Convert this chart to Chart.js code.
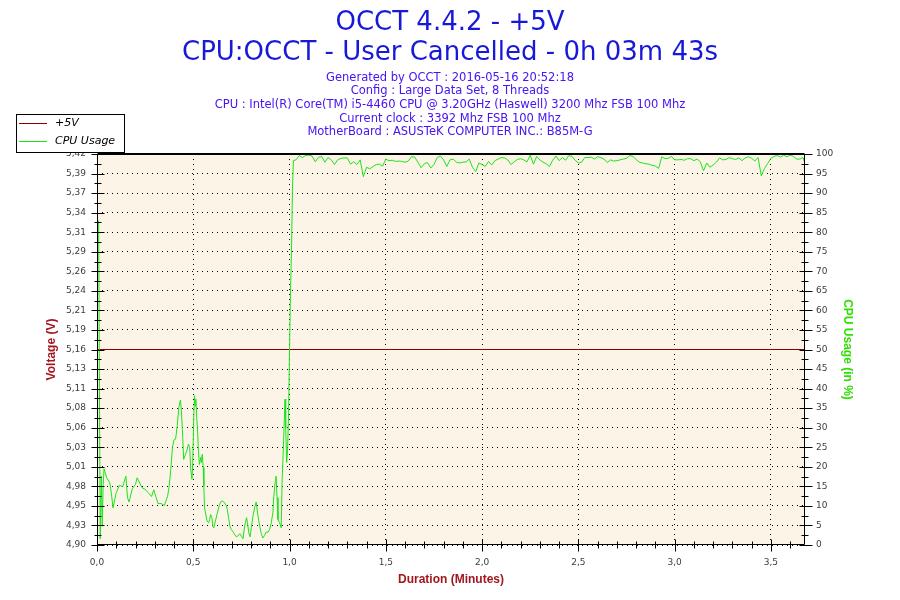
<!DOCTYPE html>
<html>
<head>
<meta charset="utf-8">
<script src="https://cdn.jsdelivr.net/npm/chart.js@4.4.1/dist/chart.umd.min.js"></script>
<style>
html,body{margin:0;padding:0;background:#ffffff;}
#wrap{width:900px;height:600px;position:relative;}
</style>
</head>
<body>
<div id="wrap"><canvas id="c" width="900" height="600"></canvas></div>
<script>
// ---------------- DATA ----------------
const headerLines = ["OCCT 4.4.2 - +5V", "CPU:OCCT - User Cancelled - 0h 03m 43s"];
const infoLines = [
  "Generated by OCCT : 2016-05-16 20:52:18",
  "Config : Large Data Set, 8 Threads",
  "CPU : Intel(R) Core(TM) i5-4460 CPU @ 3.20GHz (Haswell) 3200 Mhz FSB 100 Mhz",
  "Current clock : 3392 Mhz FSB 100 Mhz",
  "MotherBoard : ASUSTeK COMPUTER INC.: B85M-G"
];
const seriesNames = ["+5V", "CPU Usage"];

// +5V (volts) vs time (seconds)
const voltSeconds = [0, 220.6];
const voltValues  = [5.16, 5.16];

// CPU usage (%) vs time (seconds) — ramp-up phase
const rampSeconds = [
  0.5, 1.0, 1.35, 1.65, 1.9, 2.2, 3, 4, 4.5, 5,
  6, 7, 8, 9, 9.5, 10, 11, 12, 12.5, 13,
  14, 15, 16, 17, 17.7, 18.3, 19, 20, 21, 22,
  22.5, 23, 23.5, 24, 24.5, 25, 25.5, 26, 26.3, 26.6,
  27, 27.4, 28, 28.5, 28.9, 29.2, 29.6, 29.8, 30.2, 30.4,
  30.6, 30.8, 31.1, 31.3, 31.6, 31.9, 32.3, 32.5, 32.8, 33.1,
  33.3, 33.5, 34.3, 34.8, 35.1, 35.4, 35.8, 36.1, 36.4, 36.9,
  37.5, 38.2, 38.7, 39.2, 39.8, 40.3, 40.6, 41.1, 41.4, 41.8,
  42.3, 42.9, 43.4, 43.9, 44.5, 45.0, 45.5, 46.0, 46.6, 46.9,
  47.3, 47.7, 48.1, 48.6, 49.1, 49.6, 50.1, 50.7, 51.2, 51.7,
  52.2, 52.7, 53.3, 53.8, 54.3, 54.8, 55.1, 55.5, 55.8, 56.1,
  56.4, 56.9, 57.4, 57.7, 58.1, 58.4, 58.6, 58.8, 59.1, 59.4,
  59.7, 59.9, 60.3, 60.6, 60.9, 61.2
];
const rampUsage = [
  83, 1.6, 17.6, 4.8, 15, 19.5, 17.2, 15.9, 13, 9.5,
  13.4, 15.3, 14.9, 17.6, 12.1, 11, 14.4, 15.5, 17.2, 16.4,
  14.7, 14.2, 13.4, 12.4, 14.1, 12.5, 10.6, 10.6, 10.1, 12.5,
  15.1, 19.4, 24.9, 26.9, 27.1, 30.5, 35.2, 37.1, 34.3, 29.6,
  21.9, 22.8, 24.1, 25.8, 24.9, 19.4, 16.8, 20.2, 33.9, 38.2,
  35.6, 37.3, 32.2, 30.0, 24.1, 20.6, 22.4, 21.1, 23.2, 19.8,
  15.1, 9.5, 6.1, 5.7, 6.5, 7.8, 7.0, 4.8, 4.4, 6.1,
  8.2, 10.4, 11.2, 11.2, 10.8, 10.0, 9.1, 6.5, 4.8, 4.0,
  3.5, 2.7, 2.1, 2.3, 2.9, 2.3, 1.6, 4.8, 7.0, 5.7,
  3.1, 2.1, 4.4, 7.4, 9.5, 11.0, 7.8, 4.8, 2.9, 1.8,
  2.4, 3.3, 3.3, 4.0, 5.7, 8.2, 12.5, 15.9, 17.6, 12.1,
  6.5, 5.7, 4.4, 16.8, 25.3, 33.0, 37.3, 30.0, 21.1, 24.5,
  33.9, 45, 65, 75, 90.6, 98.3
];

// CPU usage (%) vs time (seconds) — full-load phase
const loadSeconds = [
  62, 63, 64, 65, 66, 67, 68, 69, 70, 71,
  72, 73, 74, 75, 76, 77, 78, 79, 80, 81,
  82, 83, 84, 85, 86, 87, 88, 89, 90, 91,
  92, 93, 94, 95, 96, 97, 98, 99, 100, 101,
  102, 103, 104, 105, 106, 107, 108, 109, 110, 111,
  112, 113, 114, 115, 116, 117, 118, 119, 120, 121,
  122, 123, 124, 125, 126, 127, 128, 129, 130, 131,
  132, 133, 134, 135, 136, 137, 138, 139, 140, 141,
  142, 143, 144, 145, 146, 147, 148, 149, 150, 151,
  152, 153, 154, 155, 156, 157, 158, 159, 160, 161,
  162, 163, 164, 165, 166, 167, 168, 169, 170, 171,
  172, 173, 174, 175, 176, 177, 178, 179, 180, 181,
  182, 183, 184, 185, 186, 187, 188, 189, 190, 191,
  192, 193, 194, 195, 196, 197, 198, 199, 200, 201,
  202, 203, 204, 205, 206, 207, 208, 209, 210, 211,
  212, 213, 214, 215, 216, 217, 218, 219, 220, 220.6
];
const loadUsage = [
  98.5, 99.6, 99.1, 99.6, 99.7, 99.5, 98.0, 99.1, 99.4, 97.9,
  99.1, 98.5, 97.3, 98.5, 98.9, 99.0, 99.0, 97.4, 98.0, 97.3,
  98.5, 94.2, 96.6, 96.2, 96.8, 97.3, 97.4, 96.9, 98.7, 98.3,
  98.4, 98.1, 98.2, 98.1, 97.9, 98.2, 99.3, 99.2, 97.9, 96.5,
  97.5, 97.8, 96.4, 97.3, 99.1, 99.5, 98.5, 96.8, 98.5, 98.7,
  97.9, 97.7, 97.9, 98.0, 98.7, 96.6, 95.5, 97.7, 97.3, 96.8,
  98.1, 97.2, 98.3, 98.7, 99.1, 99.0, 98.5, 97.3, 98.0, 98.6,
  98.8, 98.5, 98.0, 99.7, 97.4, 99.4, 98.5, 97.9, 97.5, 96.8,
  98.4, 99.5, 98.3, 99.1, 98.4, 99.6, 99.4, 98.4, 97.7, 97.9,
  99.1, 99.1, 99.2, 98.7, 99.3, 99.1, 98.7, 97.8, 98.5, 98.2,
  98.3, 98.5, 98.7, 98.9, 99.6, 99.4, 98.6, 97.9, 97.7, 97.5,
  97.4, 97.1, 96.9, 96.3, 99.3, 98.8, 98.9, 99.4, 98.5, 98.5,
  98.6, 98.4, 98.8, 98.8, 98.3, 98.7, 98.0, 95.7, 97.7, 96.6,
  97.2, 97.9, 99.0, 98.5, 98.6, 99.1, 98.8, 98.6, 99.0, 98.3,
  99.0, 99.3, 98.9, 98.2, 99.1, 94.4, 96.3, 97.6, 98.9, 99.4,
  99.6, 99.2, 99.7, 99.3, 99.7, 99.4, 98.7, 98.7, 99.1, 97.6
];

// Axis ticks
const voltTickValues = [4.900, 4.926, 4.952, 4.978, 5.004, 5.030, 5.056, 5.082, 5.108, 5.134,
  5.160, 5.186, 5.212, 5.238, 5.264, 5.290, 5.316, 5.342, 5.368, 5.394, 5.420];
const voltTickLabels = ["4,90","4,93","4,95","4,98","5,01","5,03","5,06","5,08","5,11","5,13",
  "5,16","5,19","5,21","5,24","5,26","5,29","5,31","5,34","5,37","5,39","5,42"];
const timeTickValues = [0, 0.5, 1.0, 1.5, 2.0, 2.5, 3.0, 3.5];
const timeTickLabels = ["0,0","0,5","1,0","1,5","2,0","2,5","3,0","3,5"];

// ---------------- STYLE ----------------
const X_MAX = 3.677;
const RED = '#8b0000';
const GREEN = '#18e618';
const AXIS_RED = '#a3161e';
const AXIS_GREEN = '#2ee000';
const TICK_FONT = {family: 'DejaVu Sans', size: 9};
const TICK_COLOR = '#3c3c3c';

const toXY = (secs, vals) => secs.map((s, i) => ({x: s / 60, y: vals[i]}));

const decorPlugin = {
  id: 'decor',
  beforeDraw(chart) {
    const {ctx, chartArea: a} = chart;
    ctx.save();
    ctx.fillStyle = '#ffffff';
    ctx.fillRect(0, 0, chart.width, chart.height);
    ctx.fillStyle = '#fcf5e7';
    ctx.fillRect(a.left, a.top, a.right - a.left, a.bottom - a.top);
    ctx.restore();
  },
  afterDraw(chart) {
    const {ctx, chartArea: a, scales} = chart;
    ctx.save();
    // header text
    ctx.textAlign = 'center';
    ctx.textBaseline = 'alphabetic';
    ctx.fillStyle = '#1818d8';
    ctx.font = '26px "DejaVu Sans"';
    ctx.fillText(headerLines[0], 450, 30);
    ctx.fillText(headerLines[1], 450, 60);
    ctx.fillStyle = '#4a14f4';
    ctx.font = '11.5px "DejaVu Sans"';
    infoLines.forEach((t, i) => ctx.fillText(t, 450, 80.5 + i * 13.7));

    // frame
    ctx.strokeStyle = '#000';
    ctx.lineWidth = 1;
    const L = Math.round(a.left) + 0.5, R = Math.round(a.right) - 0.5;
    const T = Math.round(a.top) + 0.5, B = Math.round(a.bottom) - 0.5;
    ctx.beginPath();
    ctx.moveTo(L, T); ctx.lineTo(R, T); ctx.lineTo(R, B); ctx.lineTo(L, B); ctx.closePath();
    ctx.stroke();
    ctx.beginPath();
    ctx.moveTo(L, T - 1); ctx.lineTo(R, T - 1);
    ctx.stroke();

    // tick marks
    const line = (x1, y1, x2, y2) => { ctx.moveTo(x1, y1); ctx.lineTo(x2, y2); };
    ctx.beginPath();
    const ys = scales.y, y1s = scales.y1, xs = scales.x;
    for (let i = 0; i < voltTickValues.length; i++) {
      const p = Math.round(ys.getPixelForValue(voltTickValues[i])) + 0.5;
      line(L - 6, p, L + 7, p);
      if (i < voltTickValues.length - 1) {
        const m = Math.round(ys.getPixelForValue((voltTickValues[i] + voltTickValues[i + 1]) / 2)) + 0.5;
        line(L - 3, m, L + 4, m);
      }
    }
    for (let v = 0; v <= 100; v += 5) {
      const p = Math.round(y1s.getPixelForValue(v)) + 0.5;
      line(R - 5, p, R + 8, p);
      if (v < 100) {
        const m = Math.round(y1s.getPixelForValue(v + 2.5)) + 0.5;
        line(R - 3, m, R + 4, m);
      }
    }
    for (let k = 0; k <= 36; k++) {
      const v = k / 10;
      const p = Math.round(xs.getPixelForValue(v)) + 0.5;
      if (k % 5 === 0) line(p, B - 5, p, B + 7);
      else line(p, B - 3, p, B + 4);
    }
    ctx.stroke();

    // legend box
    ctx.fillStyle = '#ffffff';
    ctx.fillRect(16, 114, 108, 38);
    ctx.strokeRect(16.5, 114.5, 108, 38);
    ctx.lineWidth = 1;
    ctx.strokeStyle = RED;
    ctx.beginPath(); ctx.moveTo(19, 123.5); ctx.lineTo(47, 123.5); ctx.stroke();
    ctx.strokeStyle = GREEN;
    ctx.beginPath(); ctx.moveTo(19, 141.5); ctx.lineTo(47, 141.5); ctx.stroke();
    ctx.fillStyle = '#000';
    ctx.textAlign = 'left';
    ctx.textBaseline = 'middle';
    ctx.font = 'italic 11px "DejaVu Sans"';
    ctx.fillText(seriesNames[0], 55, 123);
    ctx.fillText(seriesNames[1], 55, 141);
    ctx.restore();
  }
};

new Chart(document.getElementById('c'), {
  type: 'line',
  data: {
    datasets: [
      {
        label: seriesNames[1],
        data: toXY(rampSeconds.concat(loadSeconds), rampUsage.concat(loadUsage)),
        yAxisID: 'y1',
        borderColor: GREEN,
        borderWidth: 1,
        pointRadius: 0,
        tension: 0,
        order: 0
      },
      {
        label: seriesNames[0],
        data: toXY(voltSeconds, voltValues),
        yAxisID: 'y',
        borderColor: RED,
        borderWidth: 1,
        pointRadius: 0,
        tension: 0,
        order: 1
      }
    ]
  },
  plugins: [decorPlugin],
  options: {
    responsive: false,
    devicePixelRatio: 1,
    animation: false,
    layout: {padding: {top: 154, left: 0, right: 0, bottom: 0}},
    plugins: {legend: {display: false}, title: {display: false}, tooltip: {enabled: false}},
    scales: {
      x: {
        type: 'linear',
        position: 'bottom',
        min: 0,
        max: X_MAX,
        afterBuildTicks: s => { s.ticks = timeTickValues.map(v => ({value: v})); },
        afterFit: s => { s.height = 55; },
        ticks: {
          callback: (v, i) => timeTickLabels[i],
          font: TICK_FONT, color: TICK_COLOR, padding: 12, maxRotation: 0, autoSkip: false
        },
        grid: {color: '#000', lineWidth: 1, drawTicks: false},
        border: {display: false, dash: [1, 4]},
        title: {
          display: true, text: 'Duration (Minutes)', color: AXIS_RED,
          font: {family: 'Liberation Sans', size: 12, weight: 'bold'},
          padding: {top: 0, bottom: 13}
        }
      },
      y: {
        type: 'linear',
        position: 'left',
        min: 4.90,
        max: 5.42,
        afterBuildTicks: s => { s.ticks = voltTickValues.map(v => ({value: v})); },
        afterFit: s => { s.width = 97; },
        ticks: {
          callback: (v, i) => voltTickLabels[i],
          font: TICK_FONT, color: TICK_COLOR, padding: 11, autoSkip: false
        },
        grid: {color: '#000', lineWidth: 1, drawTicks: false},
        border: {display: false, dash: [1, 4]},
        title: {
          display: true, text: 'Voltage (V)', color: AXIS_RED,
          font: {family: 'Liberation Sans', size: 12, weight: 'bold'},
          padding: {top: 44, bottom: 0}
        }
      },
      y1: {
        type: 'linear',
        position: 'right',
        min: 0,
        max: 100,
        afterFit: s => { s.width = 95; },
        ticks: {stepSize: 5, font: TICK_FONT, color: TICK_COLOR, padding: 11, autoSkip: false},
        grid: {display: false, drawTicks: false},
        border: {display: false},
        title: {
          display: true, text: 'CPU Usage (in %)', color: AXIS_GREEN,
          font: {family: 'Liberation Sans', size: 12, weight: 'bold'},
          padding: {top: 45, bottom: 0}
        }
      }
    }
  }
});
</script>
</body>
</html>
